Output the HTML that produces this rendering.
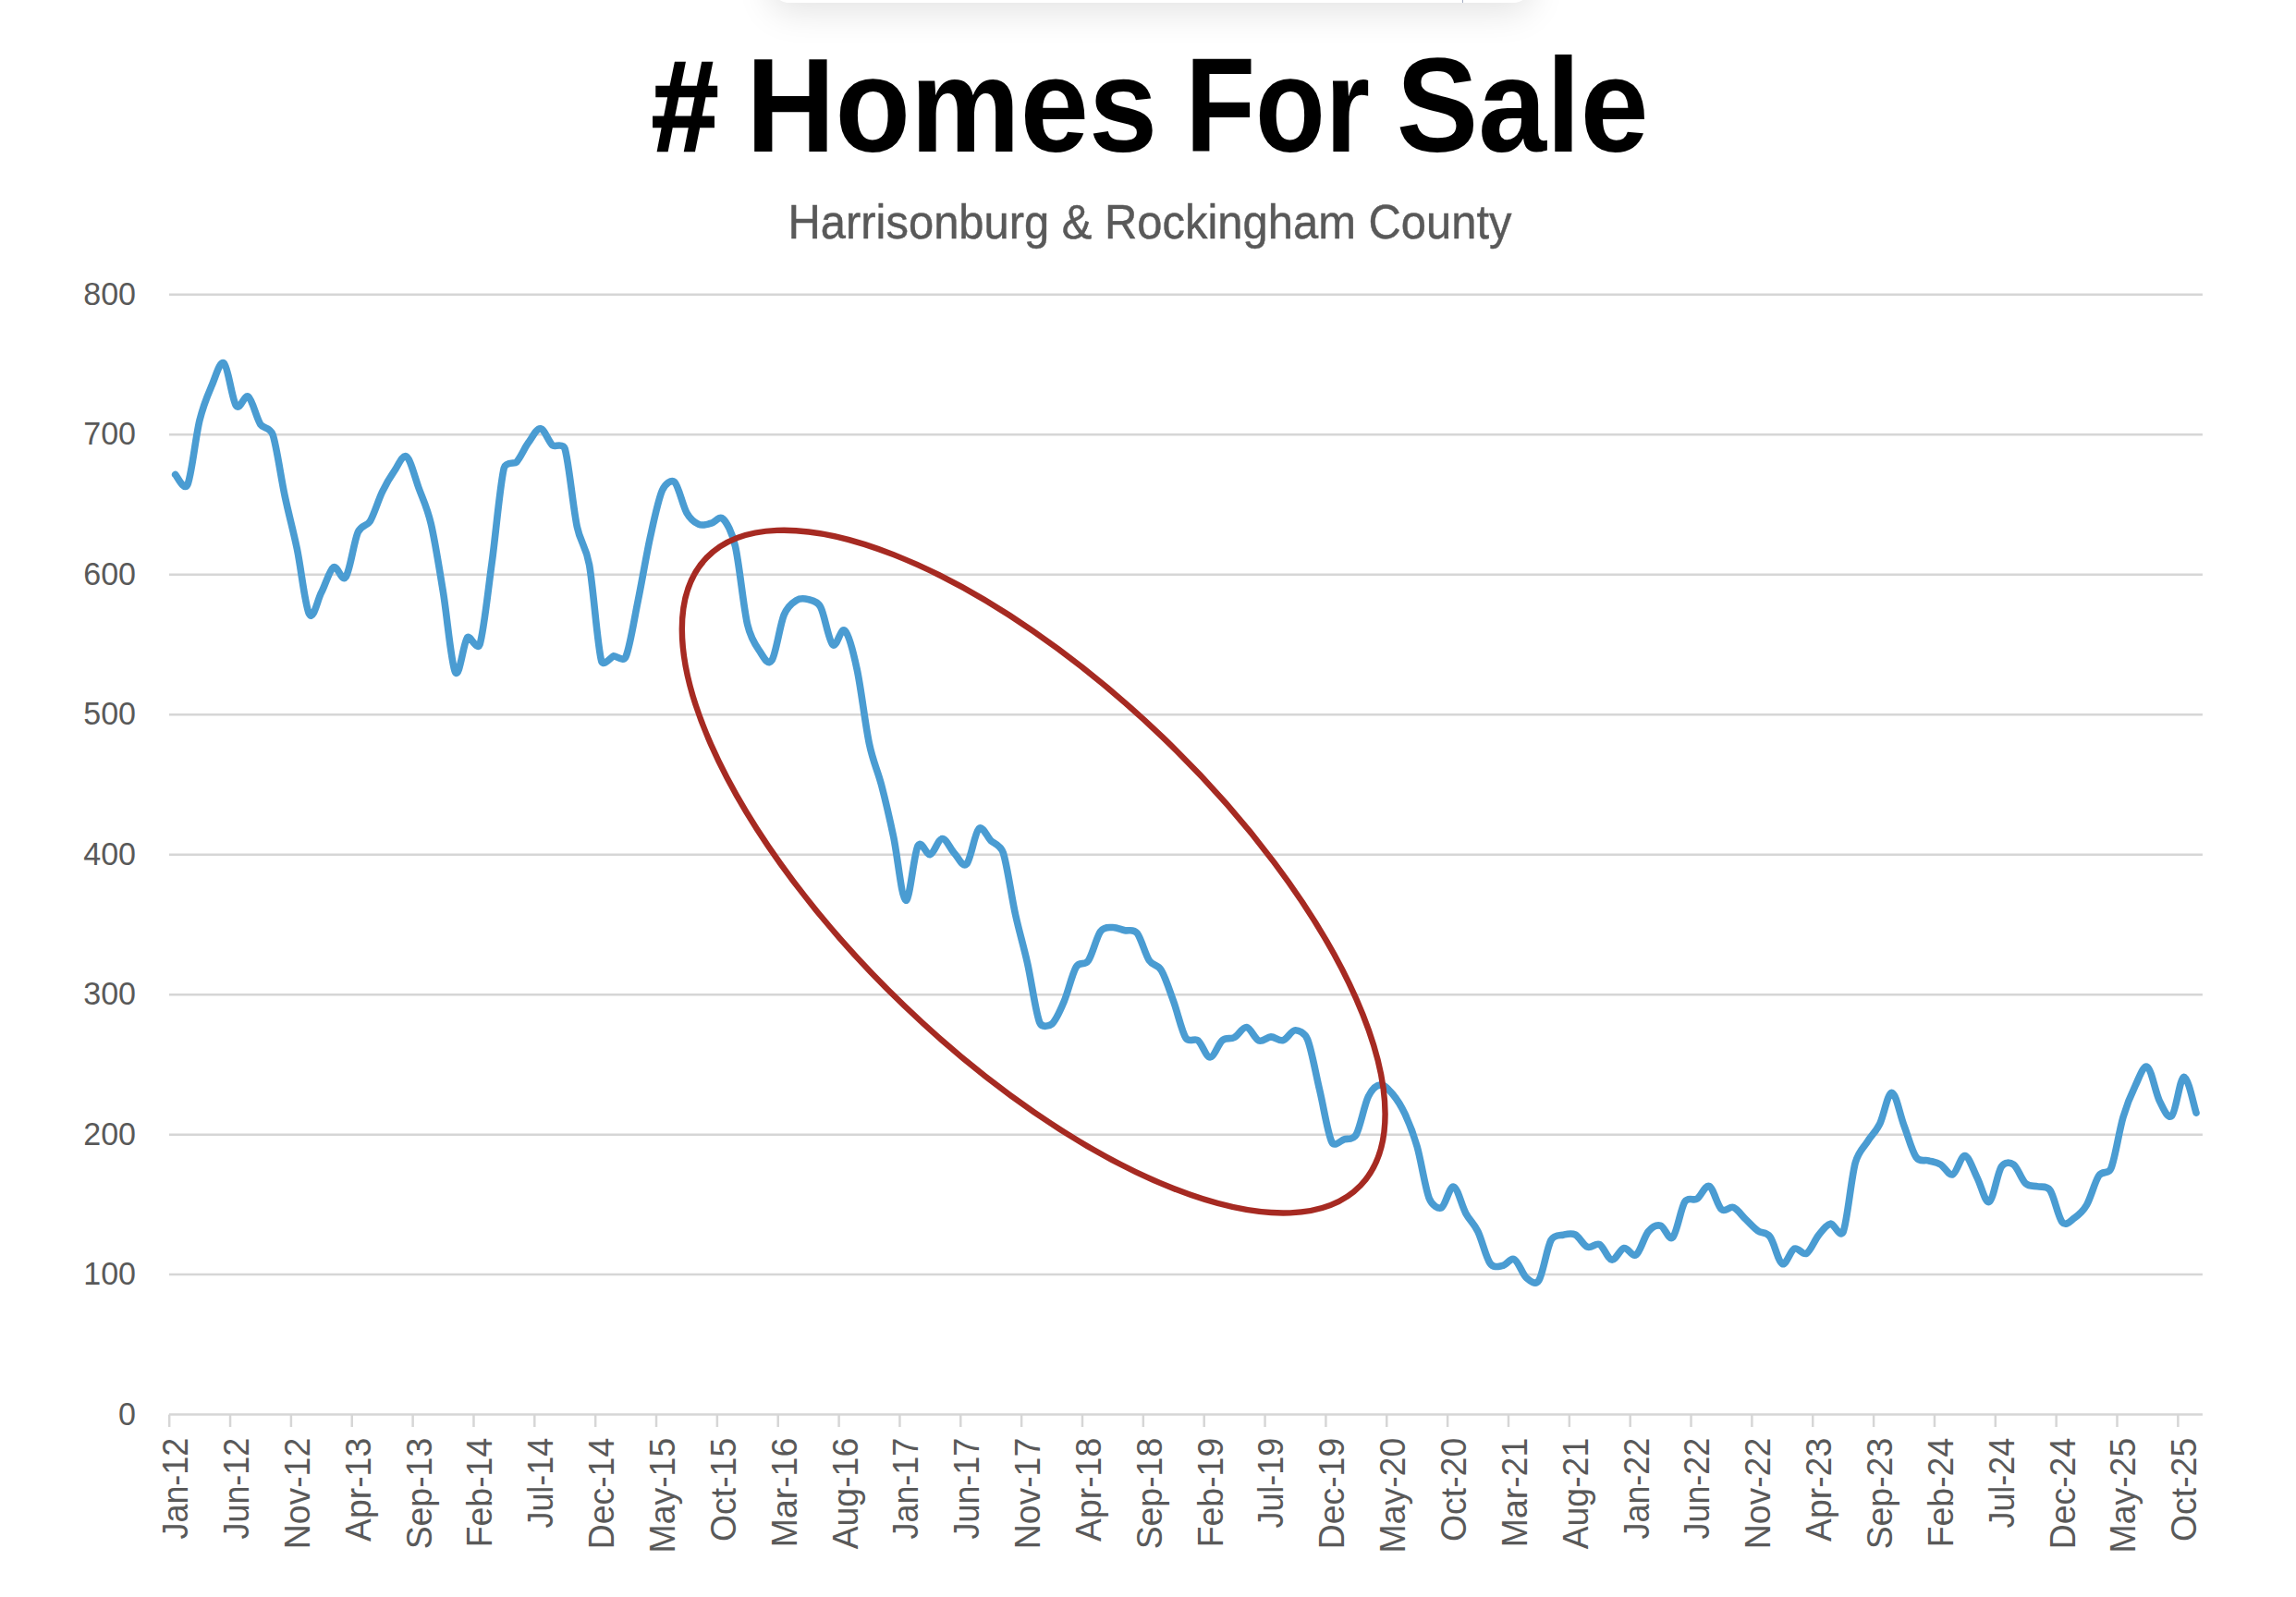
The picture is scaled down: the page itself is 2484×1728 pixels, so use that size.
<!DOCTYPE html>
<html lang="en"><head><meta charset="utf-8"><title># Homes For Sale</title>
<style>html,body{margin:0;padding:0;background:#fff}body{width:2484px;height:1728px;overflow:hidden;position:relative;font-family:"Liberation Sans",sans-serif}#pop{position:absolute;left:834px;top:-77px;width:823px;height:80px;background:#fff;border-radius:0 0 20px 20px;box-shadow:0 10px 38px rgba(0,0,0,.115)}#pop i{position:absolute;left:747.6px;top:0;width:1.6px;height:80px;background:#a3abc0}svg{position:absolute;left:0;top:0}text{font-family:"Liberation Sans",sans-serif}</style></head><body>
<div id="pop"><i></i></div>
<svg width="2484" height="1728" viewBox="0 0 2484 1728">
<g stroke="#D6D6D6" stroke-width="2.5" fill="none">
<line x1="183.0" y1="1379.12" x2="2382.9" y2="1379.12"/>
<line x1="183.0" y1="1227.65" x2="2382.9" y2="1227.65"/>
<line x1="183.0" y1="1076.17" x2="2382.9" y2="1076.17"/>
<line x1="183.0" y1="924.70" x2="2382.9" y2="924.70"/>
<line x1="183.0" y1="773.22" x2="2382.9" y2="773.22"/>
<line x1="183.0" y1="621.75" x2="2382.9" y2="621.75"/>
<line x1="183.0" y1="470.27" x2="2382.9" y2="470.27"/>
<line x1="183.0" y1="318.80" x2="2382.9" y2="318.80"/>
<line x1="183.0" y1="1530.60" x2="2382.9" y2="1530.60"/>
<line x1="183.20" y1="1530.6" x2="183.20" y2="1544.0"/>
<line x1="249.05" y1="1530.6" x2="249.05" y2="1544.0"/>
<line x1="314.91" y1="1530.6" x2="314.91" y2="1544.0"/>
<line x1="380.76" y1="1530.6" x2="380.76" y2="1544.0"/>
<line x1="446.61" y1="1530.6" x2="446.61" y2="1544.0"/>
<line x1="512.47" y1="1530.6" x2="512.47" y2="1544.0"/>
<line x1="578.32" y1="1530.6" x2="578.32" y2="1544.0"/>
<line x1="644.17" y1="1530.6" x2="644.17" y2="1544.0"/>
<line x1="710.03" y1="1530.6" x2="710.03" y2="1544.0"/>
<line x1="775.88" y1="1530.6" x2="775.88" y2="1544.0"/>
<line x1="841.73" y1="1530.6" x2="841.73" y2="1544.0"/>
<line x1="907.59" y1="1530.6" x2="907.59" y2="1544.0"/>
<line x1="973.44" y1="1530.6" x2="973.44" y2="1544.0"/>
<line x1="1039.29" y1="1530.6" x2="1039.29" y2="1544.0"/>
<line x1="1105.15" y1="1530.6" x2="1105.15" y2="1544.0"/>
<line x1="1171.00" y1="1530.6" x2="1171.00" y2="1544.0"/>
<line x1="1236.85" y1="1530.6" x2="1236.85" y2="1544.0"/>
<line x1="1302.71" y1="1530.6" x2="1302.71" y2="1544.0"/>
<line x1="1368.56" y1="1530.6" x2="1368.56" y2="1544.0"/>
<line x1="1434.41" y1="1530.6" x2="1434.41" y2="1544.0"/>
<line x1="1500.27" y1="1530.6" x2="1500.27" y2="1544.0"/>
<line x1="1566.12" y1="1530.6" x2="1566.12" y2="1544.0"/>
<line x1="1631.97" y1="1530.6" x2="1631.97" y2="1544.0"/>
<line x1="1697.83" y1="1530.6" x2="1697.83" y2="1544.0"/>
<line x1="1763.68" y1="1530.6" x2="1763.68" y2="1544.0"/>
<line x1="1829.53" y1="1530.6" x2="1829.53" y2="1544.0"/>
<line x1="1895.39" y1="1530.6" x2="1895.39" y2="1544.0"/>
<line x1="1961.24" y1="1530.6" x2="1961.24" y2="1544.0"/>
<line x1="2027.09" y1="1530.6" x2="2027.09" y2="1544.0"/>
<line x1="2092.95" y1="1530.6" x2="2092.95" y2="1544.0"/>
<line x1="2158.80" y1="1530.6" x2="2158.80" y2="1544.0"/>
<line x1="2224.65" y1="1530.6" x2="2224.65" y2="1544.0"/>
<line x1="2290.51" y1="1530.6" x2="2290.51" y2="1544.0"/>
<line x1="2356.36" y1="1530.6" x2="2356.36" y2="1544.0"/>
</g>
<g fill="#595959" font-size="35.90" text-anchor="end">
<text transform="translate(147.0 1541.70) scale(0.9486 1)">0</text>
<text transform="translate(147.0 1390.22) scale(0.9486 1)">100</text>
<text transform="translate(147.0 1238.75) scale(0.9486 1)">200</text>
<text transform="translate(147.0 1087.27) scale(0.9486 1)">300</text>
<text transform="translate(147.0 935.80) scale(0.9486 1)">400</text>
<text transform="translate(147.0 784.32) scale(0.9486 1)">500</text>
<text transform="translate(147.0 632.85) scale(0.9486 1)">600</text>
<text transform="translate(147.0 481.37) scale(0.9486 1)">700</text>
<text transform="translate(147.0 329.90) scale(0.9486 1)">800</text>
</g>
<g fill="#595959" font-size="37.40" text-anchor="end">
<text transform="translate(203.1 1555.8) rotate(-90) scale(0.960 1.040)">Jan-12</text>
<text transform="translate(268.9 1555.8) rotate(-90) scale(0.960 1.040)">Jun-12</text>
<text transform="translate(334.8 1555.8) rotate(-90) scale(1.000 1.040)">Nov-12</text>
<text transform="translate(400.6 1555.8) rotate(-90) scale(1.000 1.040)">Apr-13</text>
<text transform="translate(466.5 1555.8) rotate(-90) scale(1.000 1.040)">Sep-13</text>
<text transform="translate(532.4 1555.8) rotate(-90) scale(1.000 1.040)">Feb-14</text>
<text transform="translate(598.2 1555.8) rotate(-90) scale(0.960 1.040)">Jul-14</text>
<text transform="translate(664.1 1555.8) rotate(-90) scale(1.000 1.040)">Dec-14</text>
<text transform="translate(729.9 1555.8) rotate(-90) scale(1.000 1.040)">May-15</text>
<text transform="translate(795.8 1555.8) rotate(-90) scale(1.000 1.040)">Oct-15</text>
<text transform="translate(861.6 1555.8) rotate(-90) scale(1.000 1.040)">Mar-16</text>
<text transform="translate(927.5 1555.8) rotate(-90) scale(1.000 1.040)">Aug-16</text>
<text transform="translate(993.3 1555.8) rotate(-90) scale(0.960 1.040)">Jan-17</text>
<text transform="translate(1059.2 1555.8) rotate(-90) scale(0.960 1.040)">Jun-17</text>
<text transform="translate(1125.0 1555.8) rotate(-90) scale(1.000 1.040)">Nov-17</text>
<text transform="translate(1190.9 1555.8) rotate(-90) scale(1.000 1.040)">Apr-18</text>
<text transform="translate(1256.7 1555.8) rotate(-90) scale(1.000 1.040)">Sep-18</text>
<text transform="translate(1322.6 1555.8) rotate(-90) scale(1.000 1.040)">Feb-19</text>
<text transform="translate(1388.4 1555.8) rotate(-90) scale(0.960 1.040)">Jul-19</text>
<text transform="translate(1454.3 1555.8) rotate(-90) scale(1.000 1.040)">Dec-19</text>
<text transform="translate(1520.2 1555.8) rotate(-90) scale(1.000 1.040)">May-20</text>
<text transform="translate(1586.0 1555.8) rotate(-90) scale(1.000 1.040)">Oct-20</text>
<text transform="translate(1651.9 1555.8) rotate(-90) scale(1.000 1.040)">Mar-21</text>
<text transform="translate(1717.7 1555.8) rotate(-90) scale(1.000 1.040)">Aug-21</text>
<text transform="translate(1783.6 1555.8) rotate(-90) scale(0.960 1.040)">Jan-22</text>
<text transform="translate(1849.4 1555.8) rotate(-90) scale(0.960 1.040)">Jun-22</text>
<text transform="translate(1915.3 1555.8) rotate(-90) scale(1.000 1.040)">Nov-22</text>
<text transform="translate(1981.1 1555.8) rotate(-90) scale(1.000 1.040)">Apr-23</text>
<text transform="translate(2047.0 1555.8) rotate(-90) scale(1.000 1.040)">Sep-23</text>
<text transform="translate(2112.8 1555.8) rotate(-90) scale(1.000 1.040)">Feb-24</text>
<text transform="translate(2178.7 1555.8) rotate(-90) scale(0.960 1.040)">Jul-24</text>
<text transform="translate(2244.5 1555.8) rotate(-90) scale(1.000 1.040)">Dec-24</text>
<text transform="translate(2310.4 1555.8) rotate(-90) scale(1.000 1.040)">May-25</text>
<text transform="translate(2376.2 1555.8) rotate(-90) scale(1.000 1.040)">Oct-25</text>
</g>
<text font-size="145" font-weight="bold" fill="#000"><tspan x="704.96" y="162.6" textLength="72.17" lengthAdjust="spacingAndGlyphs" font-size="138.8" stroke="#000" stroke-width="2.5">&#35;</tspan> <tspan x="807.20" y="164.0" textLength="444.99" lengthAdjust="spacingAndGlyphs">Homes</tspan> <tspan x="1282.15" y="164.0" textLength="199.76" lengthAdjust="spacingAndGlyphs">For</tspan> <tspan x="1510.64" y="164.0" textLength="273.01" lengthAdjust="spacingAndGlyphs">Sale</tspan></text>
<text transform="translate(852.5 258.3) scale(0.9356 1)" font-size="52.3" fill="#595959" stroke="#595959" stroke-width="0.45">Harrisonburg &amp; Rockingham County</text>
<path d="M189.7 513.5C191.4 514.9 199.3 532.3 202.9 524.5C207.2 514.7 211.6 472.6 216.0 454.7C220.4 436.8 224.8 427.3 229.2 417.0C233.6 406.8 238.0 389.6 242.4 393.2C246.8 396.9 251.1 433.0 255.5 439.0C259.9 445.0 264.3 425.9 268.7 429.3C273.1 432.7 277.5 452.6 281.9 459.4C284.6 463.7 292.3 462.2 295.1 470.3C299.4 483.2 303.8 516.3 308.2 536.9C312.6 557.6 317.0 572.9 321.4 594.1C325.8 615.4 330.2 656.7 334.6 664.5C339.0 672.4 343.3 649.5 347.7 641.1C352.1 632.6 356.5 616.6 360.9 613.8C365.3 611.1 369.7 630.7 374.1 624.4C378.5 618.1 382.9 586.1 387.2 576.0C390.8 567.8 396.8 569.8 400.4 563.9C404.8 556.6 409.2 541.2 413.6 532.1C418.0 523.0 422.4 515.7 426.8 509.4C431.1 503.1 435.5 491.1 439.9 494.2C444.3 497.4 448.7 516.2 453.1 528.3C457.5 540.4 461.9 548.2 466.3 566.9C470.7 585.6 475.0 613.6 479.4 640.3C483.8 667.1 488.2 719.2 492.6 727.4C497.0 735.6 501.4 694.5 505.8 689.5C508.2 686.8 516.5 704.9 519.0 697.6C523.3 684.2 527.7 641.2 532.1 609.3C536.5 577.4 540.9 524.5 545.3 506.3C547.0 499.3 556.8 502.0 558.5 500.3C562.9 495.7 567.2 485.1 571.6 479.1C576.0 473.0 580.4 463.4 584.8 463.9C589.2 464.4 593.6 478.5 598.0 482.1C599.9 483.7 609.2 478.9 611.1 485.4C615.5 500.1 619.9 549.0 624.3 569.9C628.1 588.1 633.7 589.7 637.5 610.8C641.9 635.0 646.3 698.8 650.7 715.3C652.5 722.2 662.0 710.1 663.8 709.8C666.5 709.4 674.3 716.8 677.0 710.7C681.4 700.8 685.8 671.6 690.2 650.2C694.6 628.7 699.0 602.0 703.3 582.0C707.7 562.1 712.1 540.7 716.5 530.6C719.7 523.2 726.5 518.5 729.7 521.5C734.1 525.5 738.5 547.1 742.9 554.8C747.2 562.4 751.6 565.4 756.0 567.4C760.4 569.3 764.8 567.2 769.2 566.3C773.6 565.3 778.0 557.5 782.4 561.6C786.0 565.0 791.9 575.4 795.5 591.1C799.9 610.2 804.3 657.0 808.7 675.9C812.3 691.3 818.3 699.4 821.9 704.7C826.3 711.1 830.7 721.1 835.0 714.5C839.4 708.0 843.8 676.1 848.2 665.3C852.1 655.9 857.5 652.1 861.4 649.7C865.8 646.9 870.2 647.5 874.6 648.7C878.2 649.6 884.1 650.0 887.7 656.8C892.1 665.0 896.5 693.3 900.9 697.6C905.3 701.8 909.7 677.8 914.1 682.3C918.5 686.7 922.9 704.0 927.2 724.4C931.6 744.7 936.0 783.8 940.4 804.6C944.8 825.4 949.2 832.5 953.6 849.4C958.0 866.3 962.4 885.2 966.8 906.0C971.1 926.8 975.5 972.6 979.9 974.2C984.3 975.7 988.7 923.4 993.1 915.1C996.9 907.9 1002.4 925.8 1006.3 924.7C1010.7 923.4 1015.0 907.7 1019.4 907.5C1023.8 907.3 1028.2 918.9 1032.6 923.4C1037.0 928.0 1041.4 939.2 1045.8 934.8C1050.2 930.4 1054.6 901.1 1058.9 896.9C1063.3 892.8 1067.7 905.4 1072.1 909.7C1075.0 912.5 1082.4 913.9 1085.3 922.7C1089.7 936.0 1094.1 969.4 1098.5 989.3C1102.9 1009.2 1107.2 1022.8 1111.6 1042.3C1116.0 1061.8 1120.4 1095.5 1124.8 1106.5C1127.3 1112.6 1135.5 1110.1 1138.0 1108.0C1142.4 1104.2 1146.8 1094.1 1151.1 1083.8C1155.5 1073.5 1159.9 1053.6 1164.3 1046.2C1168.1 1039.8 1173.3 1045.4 1177.5 1039.3C1181.9 1032.9 1186.3 1013.7 1190.7 1007.8C1194.8 1002.2 1199.7 1003.7 1203.8 1003.5C1208.2 1003.4 1212.6 1005.7 1217.0 1006.7C1221.2 1007.7 1225.9 1004.5 1230.2 1009.7C1234.6 1015.2 1238.9 1032.5 1243.3 1039.3C1247.7 1045.9 1252.2 1042.8 1256.5 1050.2C1260.9 1057.6 1265.3 1071.6 1269.7 1083.8C1274.1 1095.9 1278.5 1116.0 1282.8 1123.0C1286.4 1128.7 1292.4 1122.9 1296.0 1125.7C1300.4 1129.2 1304.8 1143.9 1309.2 1143.9C1313.6 1143.9 1318.0 1129.3 1322.4 1125.7C1326.8 1122.2 1331.1 1124.9 1335.5 1122.5C1339.9 1120.2 1344.3 1111.1 1348.7 1111.6C1353.1 1112.2 1357.5 1124.3 1361.9 1126.0C1366.3 1127.7 1370.7 1122.0 1375.0 1121.9C1379.4 1121.9 1383.8 1126.8 1388.2 1125.6C1392.6 1124.4 1397.0 1114.8 1401.4 1114.7C1404.5 1114.6 1411.4 1117.0 1414.6 1124.7C1418.9 1135.5 1423.3 1160.9 1427.7 1179.5C1432.1 1198.0 1436.5 1226.9 1440.9 1235.8C1443.9 1241.8 1451.1 1233.7 1454.1 1232.8C1457.5 1231.7 1463.8 1233.9 1467.2 1227.8C1471.6 1220.0 1476.0 1195.4 1480.4 1186.4C1484.4 1178.2 1489.6 1174.2 1493.6 1173.9C1498.0 1173.5 1502.4 1178.8 1506.8 1184.0C1511.1 1189.2 1515.5 1195.8 1519.9 1205.2C1524.3 1214.6 1528.7 1225.2 1533.1 1240.5C1537.5 1255.8 1541.9 1285.9 1546.3 1296.9C1549.3 1304.6 1556.4 1308.3 1559.4 1306.8C1563.8 1304.6 1568.2 1283.1 1572.6 1284.1C1577.0 1285.1 1581.4 1304.8 1585.8 1312.8C1590.2 1320.9 1594.6 1323.5 1598.9 1332.5C1603.3 1341.6 1607.7 1360.9 1612.1 1367.0C1616.0 1372.5 1621.4 1370.2 1625.3 1369.6C1629.7 1368.9 1634.1 1360.6 1638.5 1362.8C1642.8 1365.0 1647.2 1379.2 1651.6 1382.9C1655.3 1386.1 1661.2 1391.2 1664.8 1385.5C1669.2 1378.7 1673.6 1350.1 1678.0 1341.9C1681.4 1335.6 1687.8 1336.9 1691.1 1336.2C1695.5 1335.2 1699.9 1333.8 1704.3 1336.0C1708.7 1338.2 1713.1 1347.6 1717.5 1349.3C1721.9 1351.1 1726.3 1344.3 1730.7 1346.6C1735.0 1348.9 1739.4 1362.5 1743.8 1363.1C1748.2 1363.8 1752.6 1351.5 1757.0 1350.5C1761.4 1349.6 1765.8 1360.7 1770.2 1357.7C1774.6 1354.7 1778.9 1337.8 1783.3 1332.5C1787.7 1327.3 1792.1 1325.1 1796.5 1326.2C1800.9 1327.2 1805.3 1343.0 1809.7 1338.7C1814.1 1334.4 1818.5 1307.2 1822.8 1300.3C1826.5 1294.6 1832.4 1299.6 1836.0 1297.2C1840.4 1294.4 1844.8 1281.6 1849.2 1283.5C1853.6 1285.3 1858.0 1304.6 1862.4 1308.5C1866.7 1312.3 1871.1 1304.8 1875.5 1306.6C1879.9 1308.5 1884.3 1315.1 1888.7 1319.4C1893.1 1323.6 1897.5 1328.8 1901.9 1331.9C1906.2 1335.0 1910.7 1332.4 1915.0 1338.3C1919.4 1344.2 1923.8 1365.4 1928.2 1367.5C1932.6 1369.6 1937.0 1353.0 1941.4 1351.1C1945.8 1349.3 1950.2 1358.6 1954.6 1356.1C1958.9 1353.6 1963.3 1341.5 1967.7 1336.2C1972.1 1330.8 1976.5 1324.6 1980.9 1324.0C1983.8 1323.7 1991.1 1340.4 1994.1 1333.0C1998.5 1322.0 2002.8 1274.5 2007.2 1258.2C2010.7 1245.4 2017.0 1240.7 2020.4 1235.2C2024.8 1228.2 2029.2 1225.1 2033.6 1216.3C2038.0 1207.4 2042.4 1181.9 2046.7 1182.2C2051.1 1182.4 2055.5 1206.1 2059.9 1217.8C2064.3 1229.4 2068.7 1246.0 2073.1 1252.3C2077.0 1257.9 2082.4 1254.6 2086.3 1255.8C2090.7 1257.1 2095.0 1257.5 2099.4 1260.0C2103.8 1262.5 2108.2 1272.3 2112.6 1270.8C2117.0 1269.2 2121.4 1250.1 2125.8 1250.6C2130.2 1251.1 2134.6 1265.6 2138.9 1273.9C2143.3 1282.2 2147.7 1302.4 2152.1 1300.4C2156.5 1298.5 2160.9 1269.0 2165.3 1262.3C2168.9 1256.7 2174.8 1257.6 2178.5 1260.2C2182.8 1263.2 2187.2 1276.8 2191.6 1280.7C2196.0 1284.7 2200.4 1282.6 2204.8 1283.8C2208.7 1284.9 2214.1 1282.3 2218.0 1288.0C2222.4 1294.4 2226.7 1317.4 2231.1 1322.4C2235.5 1327.4 2239.9 1320.9 2244.3 1317.8C2248.7 1314.8 2253.1 1311.5 2257.5 1303.9C2261.9 1296.3 2266.3 1278.9 2270.6 1272.3C2274.9 1265.9 2280.9 1271.5 2283.8 1264.4C2288.2 1253.8 2292.6 1223.8 2297.0 1208.8C2301.4 1193.9 2305.8 1183.6 2310.2 1174.6C2314.6 1165.6 2318.9 1151.8 2323.3 1154.6C2327.7 1157.5 2332.1 1182.8 2336.5 1191.6C2340.9 1200.3 2345.3 1211.6 2349.7 1207.2C2354.1 1202.8 2358.5 1165.7 2362.8 1165.2C2367.2 1164.7 2373.8 1197.7 2376.0 1204.1" fill="none" stroke="#4A9CD2" stroke-width="7.6" stroke-linecap="round" stroke-linejoin="round"/>
<ellipse cx="1118.2" cy="943.1" rx="490.4" ry="201.6" transform="rotate(43.82 1118.2 943.1)" fill="none" stroke="#A62A22" stroke-width="6.4"/>
</svg></body></html>
